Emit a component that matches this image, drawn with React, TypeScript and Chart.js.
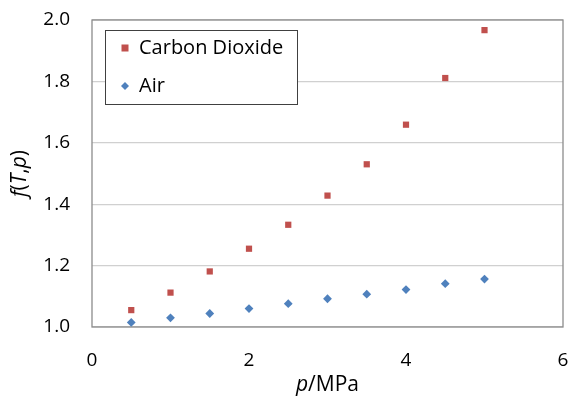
import React, { useEffect, useRef } from "react";
import { Chart, registerables } from "chart.js";

Chart.register(...registerables);

const pressures = [0.5, 1.0, 1.5, 2.0, 2.5, 3.0, 3.5, 4.0, 4.5, 5.0];
const co2Values = [1.055, 1.112, 1.181, 1.255, 1.333, 1.428, 1.53, 1.659, 1.811, 1.967];
const airValues = [1.015, 1.03, 1.044, 1.06, 1.076, 1.092, 1.107, 1.122, 1.141, 1.156];
const seriesNames = ["Carbon Dioxide", "Air"];
const xTitleParts: [string, boolean][] = [["p", true], ["/MPa", false]];
const yTitleParts: [string, boolean][] = [["f", true], ["(", false], ["T", true], [",", false], ["p", true], [")", false]];

const RED = "#C0504D";
const BLUE = "#4F81BD";
const FONT = "'Open Sans', 'Liberation Sans', sans-serif";

function drawParts(ctx: CanvasRenderingContext2D, parts: [string, boolean][], size: number) {
  const widths = parts.map(([t, it]) => {
    ctx.font = `${it ? "italic " : ""}${size}px ${FONT}`;
    return ctx.measureText(t).width;
  });
  const total = widths.reduce((a, b) => a + b, 0);
  let x = -total / 2;
  parts.forEach(([t, it], i) => {
    ctx.font = `${it ? "italic " : ""}${size}px ${FONT}`;
    ctx.fillText(t, x, 0);
    x += widths[i];
  });
}

const decorPlugin = {
  id: "decor",
  beforeDatasetsDraw(chart: any) {
    const { ctx, chartArea } = chart;
    ctx.save();
    ctx.strokeStyle = "#8C8C8C";
    ctx.lineWidth = 1.3;
    ctx.strokeRect(chartArea.left, chartArea.top, chartArea.right - chartArea.left, chartArea.bottom - chartArea.top);
    ctx.restore();
  },
  afterDraw(chart: any) {
    const { ctx, chartArea } = chart;
    ctx.save();
    ctx.fillStyle = "#000";
    ctx.textBaseline = "middle";
    ctx.textAlign = "left";
    ctx.save();
    ctx.translate((chartArea.left + chartArea.right) / 2, 385);
    drawParts(ctx, xTitleParts, 21);
    ctx.restore();
    ctx.save();
    ctx.translate(20, (chartArea.top + chartArea.bottom) / 2);
    ctx.rotate(-Math.PI / 2);
    drawParts(ctx, yTitleParts, 21);
    ctx.restore();
    const lx = 105, ly = 30, lw = 192, lh = 74;
    ctx.fillStyle = "#fff";
    ctx.fillRect(lx, ly, lw, lh);
    ctx.strokeStyle = "#404040";
    ctx.lineWidth = 1;
    ctx.strokeRect(lx + 0.5, ly + 0.5, lw, lh);
    ctx.fillStyle = RED;
    ctx.fillRect(125 - 3.5, 48 - 3.5, 7, 7);
    ctx.fillStyle = BLUE;
    ctx.beginPath();
    ctx.moveTo(125, 86 - 4);
    ctx.lineTo(129, 86);
    ctx.lineTo(125, 86 + 4);
    ctx.lineTo(121, 86);
    ctx.closePath();
    ctx.fill();
    ctx.fillStyle = "#000";
    ctx.font = `20px ${FONT}`;
    ctx.fillText(seriesNames[0], 139, 48);
    ctx.fillText(seriesNames[1], 139, 86);
    ctx.restore();
  },
};

export default function App() {
  const ref = useRef<HTMLCanvasElement>(null);
  useEffect(() => {
    if (!ref.current) return;
    const chart = new Chart(ref.current, {
      type: "scatter",
      data: {
        datasets: [
          {
            label: seriesNames[0],
            data: pressures.map((p, i) => ({ x: p, y: co2Values[i] })),
            backgroundColor: RED,
            borderColor: RED,
            pointStyle: "rect",
            pointRadius: 4.4,
            borderWidth: 0,
          },
          {
            label: seriesNames[1],
            data: pressures.map((p, i) => ({ x: p, y: airValues[i] })),
            backgroundColor: BLUE,
            borderColor: BLUE,
            pointStyle: "rectRot",
            pointRadius: 4.4,
            borderWidth: 0,
          },
        ],
      },
      options: {
        animation: false,
        responsive: true,
        maintainAspectRatio: false,
        layout: { padding: { top: 20, right: 7, left: 0, bottom: 0 } },
        plugins: { legend: { display: false }, tooltip: { enabled: false } },
        scales: {
          x: {
            type: "linear",
            min: 0,
            max: 6,
            ticks: { stepSize: 2, padding: 22, color: "#000", font: { family: FONT, size: 19 } },
            grid: { display: false, drawTicks: false },
            border: { display: false },
            afterFit: (s: any) => { s.height = 73; s.paddingLeft = 0; s.paddingRight = 0; },
          },
          y: {
            min: 1.0,
            max: 2.0,
            ticks: {
              stepSize: 0.2,
              padding: 22,
              color: "#000",
              font: { family: FONT, size: 19 },
              callback: (v: any) => Number(v).toFixed(1),
            },
            grid: { color: "#D0D0D0", lineWidth: 1.2, drawTicks: false },
            border: { display: false },
            afterFit: (s: any) => { s.width = 92; s.paddingTop = 0; s.paddingBottom = 0; },
          },
        },
      },
      plugins: [decorPlugin],
    });
    return () => chart.destroy();
  }, []);
  return (
    <div style={{ position: "fixed", left: 0, top: 0, width: 570, height: 400, background: "#fff" }}>
      <canvas ref={ref} />
    </div>
  );
}
